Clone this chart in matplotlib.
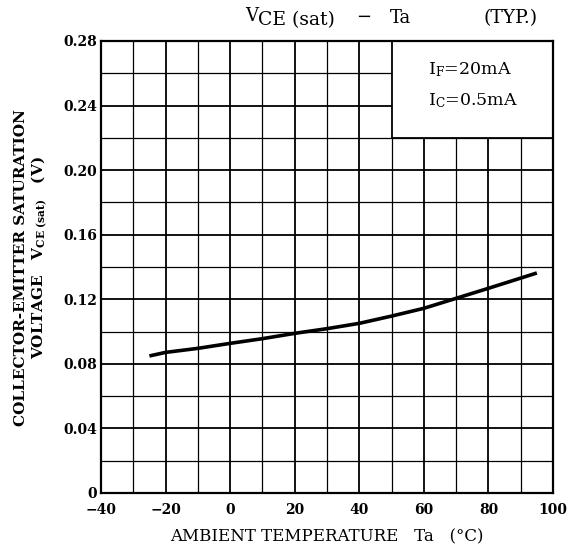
import matplotlib
matplotlib.use("Agg")
import matplotlib.pyplot as plt
from matplotlib.patches import Rectangle
import numpy as np

plt.rcParams['font.family'] = ['DejaVu Serif']
plt.rcParams['mathtext.fontset'] = 'custom'
plt.rcParams['mathtext.rm'] = 'DejaVu Serif'
plt.rcParams['mathtext.it'] = 'DejaVu Serif:italic'
plt.rcParams['mathtext.bf'] = 'DejaVu Serif:bold'

# Data
ta = [-25, -20, -10, 0, 10, 20, 30, 40, 50, 60, 70, 80, 95]
vce = [0.0849, 0.0871, 0.0896, 0.0927, 0.0956, 0.0989, 0.1018, 0.1051, 0.1096, 0.1144, 0.1206, 0.1268, 0.1363]

xticks = [-40, -20, 0, 20, 40, 60, 80, 100]
xtick_labels = ['\u221240', '\u221220', '0', '20', '40', '60', '80', '100']
yticks = [0, 0.04, 0.08, 0.12, 0.16, 0.20, 0.24, 0.28]
ytick_labels = ['0', '0.04', '0.08', '0.12', '0.16', '0.20', '0.24', '0.28']

W, H = 574, 557
fig = plt.figure(figsize=(W / 100, H / 100), dpi=100)
ax = fig.add_axes([101 / W, 1 - 493 / H, 452 / W, 452 / H])
ax.set_xlim(-40, 100)
ax.set_ylim(0, 0.28)

# grid
for x in np.arange(-30, 100, 10):
    lw = 1.3 if x % 20 == 0 else 0.9
    ax.axvline(x, color='black', lw=lw, zorder=1)
for y in np.arange(0.02, 0.28, 0.02):
    lw = 1.3 if round(y / 0.02) % 2 == 0 else 0.9
    ax.axhline(y, color='black', lw=lw, zorder=1)

# condition box
ax.add_patch(Rectangle((50, 0.22), 50, 0.06, facecolor='white', edgecolor='black', lw=1.3, zorder=2))
ax.text(61.3, 0.262, r'I$_\mathregular{F}$=20mA', fontsize=12.5, va='center', ha='left', zorder=3)
ax.text(61.3, 0.243, r'I$_\mathregular{C}$=0.5mA', fontsize=12.5, va='center', ha='left', zorder=3)

ax.plot(ta, vce, color='black', lw=2.6, zorder=4, solid_capstyle='butt')

ax.set_xticks(xticks)
ax.set_xticklabels(xtick_labels, fontsize=10, fontweight='bold')
ax.set_yticks(yticks)
ax.set_yticklabels(ytick_labels, fontsize=10, fontweight='bold')
ax.tick_params(length=0)
ax.tick_params(axis='x', pad=7)
ax.tick_params(axis='y', pad=3)
for s in ax.spines.values():
    s.set_linewidth(1.6)
    s.set_zorder(5)

fig.text(327 / W, 1 - 537 / H, 'AMBIENT TEMPERATURE   Ta   (\u00b0C)', fontsize=12,
         ha='center', va='center')
fig.text(21 / W, 1 - 268 / H, 'COLLECTOR-EMITTER SATURATION', rotation=90, fontsize=11,
         fontweight='bold', ha='center', va='center')
fig.text(39 / W, 1 - 258 / H, r'VOLTAGE   V$_\mathregular{CE\ (sat)}$   (V)', rotation=90,
         fontsize=11, fontweight='bold', ha='center', va='center')

# title pieces
fig.text(245 / W, 1 - 21 / H, 'V', fontsize=13, ha='left', va='baseline')
fig.text(258 / W, 1 - 25 / H, 'CE (sat)', fontsize=13.5, ha='left', va='baseline')
fig.text(356 / W, 1 - 22 / H, '\u2212', fontsize=13, ha='left', va='baseline')
fig.text(390 / W, 1 - 23 / H, 'Ta', fontsize=13, ha='left', va='baseline')
fig.text(538 / W, 1 - 23 / H, '(TYP.)', fontsize=13.5, ha='right', va='baseline')

fig.savefig('out.png', dpi=100)
